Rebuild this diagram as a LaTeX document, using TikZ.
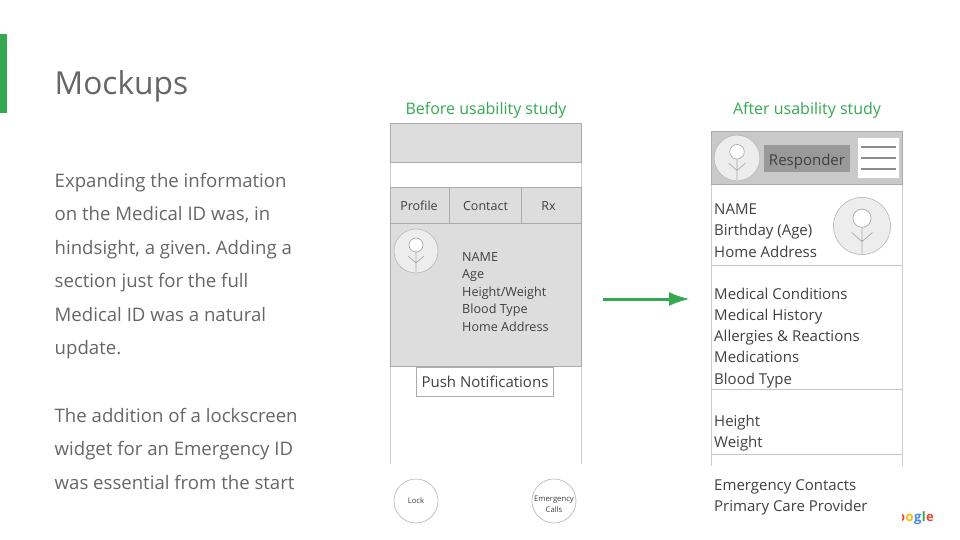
\documentclass[tikz,border=0pt]{standalone}
\usepackage{fontspec}
\setmainfont{Open Sans}
\usetikzlibrary{positioning,arrows.meta}
\frenchspacing
\definecolor{slidegreen}{HTML}{34A853}
\definecolor{bodygray}{HTML}{666666}
\definecolor{inkgray}{HTML}{404040}
\definecolor{panelgray}{HTML}{DDDDDD}
\definecolor{headgray}{HTML}{C9C9C9}
\definecolor{edgegray}{HTML}{ABABAB}
\tikzset{
  body/.style={anchor=base west, inner sep=0pt, text=bodygray, font=\fontsize{18.6}{20}\selectfont},
  mock/.style={anchor=base west, inner sep=0pt, text=inkgray, font=\fontsize{12.6}{15}\selectfont},
  big/.style={anchor=base west, inner sep=0pt, text=inkgray, font=\fontsize{15}{17}\selectfont},
  caption/.style={inner sep=0pt, text=slidegreen, font=\fontsize{16}{18}\selectfont},
  tablabel/.style={inner sep=0pt, text height=9pt, text depth=0pt, text=inkgray, font=\fontsize{12.5}{15}\selectfont},
  panel/.style={draw=edgegray, fill=panelgray, line width=.8pt},
  hline/.style={draw=edgegray!70, line width=1pt},
  side/.style={draw=edgegray!60, line width=.8pt},
  round/.style={circle, draw=edgegray!80, line width=.7pt, minimum size=44pt, inner sep=0pt, align=center, text=inkgray, font=\fontsize{7.7}{10}\selectfont},
  pics/avatar/.style={code={
    \path[draw=edgegray!80, fill=black!7, line width=.7pt] (0,0) circle[radius=22];
    \draw[edgegray, line width=.7pt, fill=white] (0,-6) circle[radius=7];
    \draw[edgegray, line width=.7pt] (0,1) -- (0,21) (-8,5) -- (0,12) -- (8,5);
  }},
  logo/.style={anchor=base west, inner sep=0pt, font=\bfseries\fontsize{13}{16}\selectfont},
}
\definecolor{logored}{HTML}{EA4335}
\definecolor{logoyellow}{HTML}{FBBC05}
\definecolor{logoblue}{HTML}{4285F4}
\begin{document}
\begin{tikzpicture}[x=1pt,y=-1pt]
\useasboundingbox (0,0) rectangle (960,540);
\fill[slidegreen] (0,34) rectangle (7,113);
\node[anchor=base west, inner sep=0pt, text=bodygray, font=\fontsize{31.7}{36}\selectfont] (title) at (54.5,95) {Mockups};
\foreach \y/\name in {187/Expanding the information,220.5/on the Medical ID was{,} in,254/hindsight{,} a given. Adding a,287.5/section just for the full,321/Medical ID was a natural,354.5/update.,422/The addition of a lockscreen,455.5/widget for an Emergency ID,489/was essential from the start}{\node[body] (line\y) at (54.5,\y) {\name};}
% before
\node[caption] (before) at (486,110) {Before usability study};
\draw[side] (390.5,123) -- (390.5,464);
\draw[side] (581,123) -- (581,464);
\path[panel] (390.5,123.5) rectangle (581,162);
\path[panel] (390.5,187) rectangle (581,223);
\path[panel] (390.5,223) rectangle (581,366);
\draw[edgegray, line width=.8pt] (449.5,187) -- (449.5,223);
\draw[edgegray, line width=.8pt] (521.5,187) -- (521.5,223);
\foreach \x/\name in {419/Profile,485.5/Contact,548.5/Rx}{\node[tablabel] (tab\name) at (\x,206) {\name};}
\pic at (416,251) {avatar};
\foreach \y/\name in {261/NAME,278.5/Age,296/{Height/Weight},313.5/Blood Type,331/Home Address}{\node[mock] (info\y) at (462,\y) {\name};}
\node[draw=edgegray, fill=white, line width=.8pt, minimum width=137pt, minimum height=29pt, inner sep=0pt, text=inkgray, font=\fontsize{15}{17}\selectfont] (push) at (485,381.5) {Push Notifications};
\node[round] (lock) at (416,501) {Lock};
\node[round, inner sep=-6pt] (calls) at (554,501) {\rule{0pt}{13pt}Emergency\\[1pt]Calls};
% arrow
\coordinate (from) at (603,299);
\coordinate (to) at (690,299);
\draw[-{Latex[length=21pt,width=14pt]}, slidegreen, line width=3pt] (from) -- (to);
% after
\node[caption] (after) at (807,110) {After usability study};
\draw[side] (711.5,131) -- (711.5,466);
\draw[side] (902,131) -- (902,466);
\path[draw=edgegray, fill=headgray, line width=.8pt] (711.5,131.5) rectangle (902,184);
\pic[scale=1.04] at (737,158) {avatar};
\node[fill=black!40, minimum width=86pt, minimum height=27pt, inner sep=0pt, text height=12pt, text depth=0pt, text=inkgray, font=\fontsize{15}{17}\selectfont] (responder) at (807,159) {Responder};
\path[draw=edgegray!60, fill=white, line width=.8pt] (857.5,137.5) rectangle (899.5,178.5);
\foreach \y in {147,158,169}\draw[black!45, line width=1.3pt] (861,\y) -- (896,\y);
\pic[scale=1.3] at (862,226) {avatar};
\foreach \y in {265.5,389.5,454.5}\draw[hline] (711.5,\y) -- (902,\y);
\foreach \y/\name in {214.5/NAME,235.5/Birthday (Age),257/Home Address,299/Medical Conditions,320/Medical History,341.5/Allergies \& Reactions,362.5/Medications,384/Blood Type,426.5/Height,447.5/Weight,490.5/Emergency Contacts,511.5/Primary Care Provider}{\node[big] (item\y) at (714,\y) {\name};}
% logo
\begin{scope}
\clip (902.5,500) rectangle (940,530);
\node[logo, text=logored] (logoa) at (897,521) {o};
\node[logo, text=logoyellow, right=0pt of logoa.base east, anchor=base west] (logob) {o};
\node[logo, text=logoblue, right=0pt of logob.base east, anchor=base west] (logoc) {g};
\node[logo, text=slidegreen, right=0pt of logoc.base east, anchor=base west] (logod) {l};
\node[logo, text=logored, right=0pt of logod.base east, anchor=base west] (logoe) {e};
\end{scope}
\end{tikzpicture}
\end{document}
